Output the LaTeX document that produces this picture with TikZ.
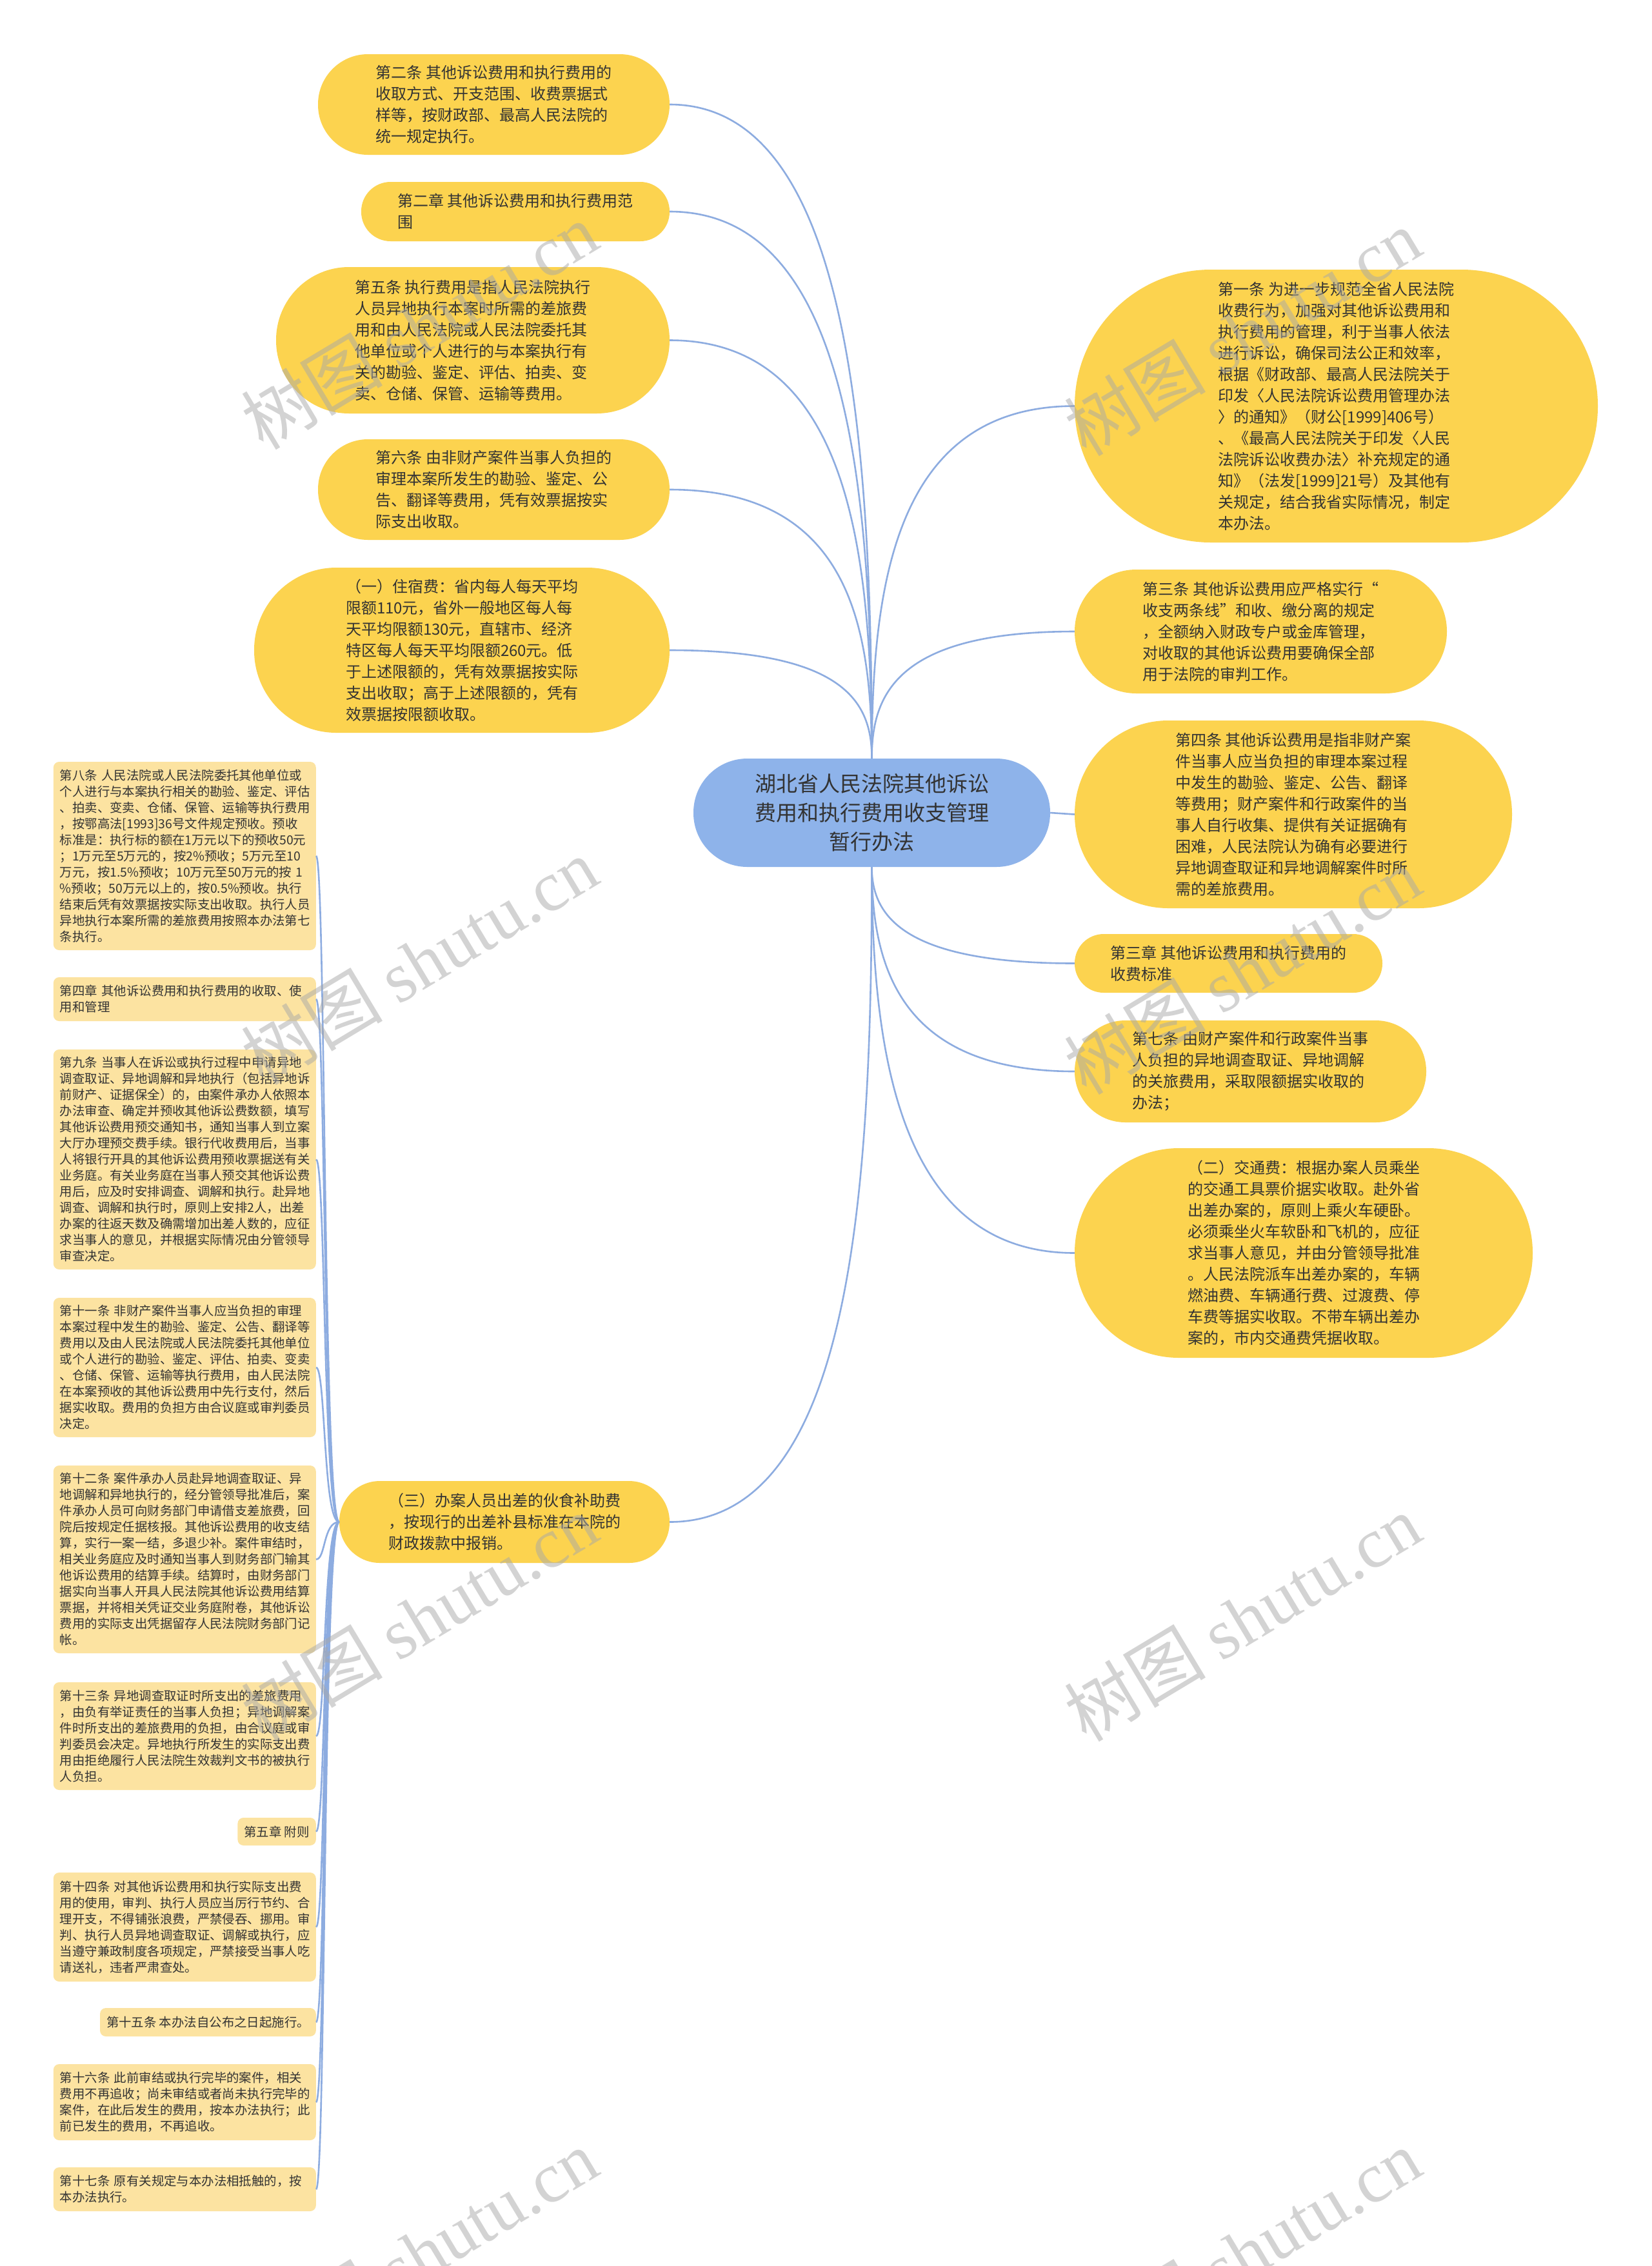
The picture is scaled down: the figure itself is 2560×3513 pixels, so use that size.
\documentclass[tikz,border=0pt]{standalone}
\usepackage{fontspec}
\setmainfont{Noto Sans CJK SC}
\newfontfamily\cjkfont{Noto Sans CJK SC}
\newfontfamily\wmserif{Liberation Serif}
\usetikzlibrary{calc}
\definecolor{bigyel}{HTML}{FCD34F}
\definecolor{smallyel}{HTML}{FCE3A1}
\definecolor{rootblue}{HTML}{8EB3EA}
\definecolor{linec}{HTML}{8DACE0}
\definecolor{txt}{HTML}{333333}
\definecolor{wm}{HTML}{A8A8A8}
\tikzset{
  bignode/.style={fill=bigyel, text=txt, align=left, inner sep=0pt, font=\fontsize{24}{33}\selectfont},
  smallnode/.style={fill=smallyel, text=txt, align=left, inner xsep=10pt, inner ysep=4pt, rounded corners=9pt, font=\fontsize{19.4}{25}\selectfont, anchor=east},
  widesmall/.style={smallnode, text width=387pt},
  rootnode/.style={fill=rootblue, text=txt, align=center, inner sep=0pt, font=\fontsize{33}{45}\selectfont},
  conn/.style={draw=linec, line width=2.6pt},
  wmark/.style={text=wm, opacity=0.5, rotate=31, inner sep=0pt, font=\fontsize{110}{110}\selectfont}
}
\begin{document}
\begin{tikzpicture}[x=1pt,y=-1pt]
\fill[white] (0,0) rectangle (2560,3513);
\useasboundingbox (0,0) rectangle (2560,3513);

% root
\node[rootnode, minimum width=553pt, minimum height=168pt, rounded corners=83.5pt] (root) at (1351.5,1260)
 {湖北省人民法院其他诉讼\\费用和执行费用收支管理\\暂行办法};

% left big nodes
\node[bignode, minimum width=545pt, minimum height=156pt, rounded corners=77.5pt] (l1) at (765.5,162)
 {第二条 其他诉讼费用和执行费用的\\收取方式、开支范围、收费票据式\\样等，按财政部、最高人民法院的\\统一规定执行。};
\node[bignode, minimum width=478pt, minimum height=92pt, rounded corners=45.5pt] (l2) at (799,328)
 {第二章 其他诉讼费用和执行费用范\\围};
\node[bignode, minimum width=610pt, minimum height=227pt, rounded corners=113pt] (l3) at (733,527.5)
 {第五条 执行费用是指人民法院执行\\人员异地执行本案时所需的差旅费\\用和由人民法院或人民法院委托其\\他单位或个人进行的与本案执行有\\关的勘验、鉴定、评估、拍卖、变\\卖、仓储、保管、运输等费用。};
\node[bignode, minimum width=545pt, minimum height=156pt, rounded corners=77.5pt] (l4) at (765.5,759)
 {第六条 由非财产案件当事人负担的\\审理本案所发生的勘验、鉴定、公\\告、翻译等费用，凭有效票据按实\\际支出收取。};
\node[bignode, minimum width=644pt, minimum height=256pt, rounded corners=127.5pt] (l5) at (716,1008)
 {（一）住宿费：省内每人每天平均\\限额110元，省外一般地区每人每\\天平均限额130元，直辖市、经济\\特区每人每天平均限额260元。低\\于上述限额的，凭有效票据按实际\\支出收取；高于上述限额的，凭有\\效票据按限额收取。};
\node[bignode, minimum width=512pt, minimum height=127pt, rounded corners=63pt] (l6) at (782,2359.5)
 {（三）办案人员出差的伙食补助费\\，按现行的出差补县标准在本院的\\财政拨款中报销。};

% right big nodes
\node[bignode, minimum width=811pt, minimum height=423pt, rounded corners=211pt] (r1) at (2071.5,629.5)
 {第一条 为进一步规范全省人民法院\\收费行为，加强对其他诉讼费用和\\执行费用的管理，利于当事人依法\\进行诉讼，确保司法公正和效率，\\根据《财政部、最高人民法院关于\\印发〈人民法院诉讼费用管理办法\\〉的通知》（财公[1999]406号）\\、《最高人民法院关于印发〈人民\\法院诉讼收费办法〉补充规定的通\\知》（法发[1999]21号）及其他有\\关规定，结合我省实际情况，制定\\本办法。};
\node[bignode, minimum width=577pt, minimum height=192pt, rounded corners=95.5pt] (r2) at (1954.5,979)
 {第三条 其他诉讼费用应严格实行“\\收支两条线”和收、缴分离的规定\\，全额纳入财政专户或金库管理，\\对收取的其他诉讼费用要确保全部\\用于法院的审判工作。};
\node[bignode, minimum width=678pt, minimum height=291pt, rounded corners=145pt] (r3) at (2005,1262.5)
 {第四条 其他诉讼费用是指非财产案\\件当事人应当负担的审理本案过程\\中发生的勘验、鉴定、公告、翻译\\等费用；财产案件和行政案件的当\\事人自行收集、提供有关证据确有\\困难，人民法院认为确有必要进行\\异地调查取证和异地调解案件时所\\需的差旅费用。};
\node[bignode, minimum width=477pt, minimum height=91pt, rounded corners=45pt] (r4) at (1904.5,1493.5)
 {第三章 其他诉讼费用和执行费用的\\收费标准};
\node[bignode, minimum width=545pt, minimum height=158pt, rounded corners=78.5pt] (r5) at (1938.5,1661)
 {第七条 由财产案件和行政案件当事\\人负担的异地调查取证、异地调解\\的关旅费用，采取限额据实收取的\\办法；};
\node[bignode, minimum width=710pt, minimum height=325pt, rounded corners=162pt] (r6) at (2021,1942.5)
 {（二）交通费：根据办案人员乘坐\\的交通工具票价据实收取。赴外省\\出差办案的，原则上乘火车硬卧。\\必须乘坐火车软卧和飞机的，应征\\求当事人意见，并由分管领导批准\\。人民法院派车出差办案的，车辆\\燃油费、车辆通行费、过渡费、停\\车费等据实收取。不带车辆出差办\\案的，市内交通费凭据收取。};

% left column small nodes
\node[widesmall, minimum height=292pt] (sa) at (490,1327)
 {第八条 人民法院或人民法院委托其他单位或\\个人进行与本案执行相关的勘验、鉴定、评估\\、拍卖、变卖、仓储、保管、运输等执行费用\\，按鄂高法[1993]36号文件规定预收。预收\\标准是：执行标的额在1万元以下的预收50元\\；1万元至5万元的，按2\%预收；5万元至10\\万元，按1.5\%预收；10万元至50万元的按 1\\\%预收；50万元以上的，按0.5\%预收。执行\\结束后凭有效票据按实际支出收取。执行人员\\异地执行本案所需的差旅费用按照本办法第七\\条执行。};
\node[widesmall, minimum height=68pt] (sb) at (490,1549)
 {第四章 其他诉讼费用和执行费用的收取、使\\用和管理};
\node[widesmall, minimum height=341pt] (sc) at (490,1797.5)
 {第九条 当事人在诉讼或执行过程中申请异地\\调查取证、异地调解和异地执行（包括异地诉\\前财产、证据保全）的，由案件承办人依照本\\办法审查、确定并预收其他诉讼费数额，填写\\其他诉讼费用预交通知书，通知当事人到立案\\大厅办理预交费手续。银行代收费用后，当事\\人将银行开具的其他诉讼费用预收票据送有关\\业务庭。有关业务庭在当事人预交其他诉讼费\\用后，应及时安排调查、调解和执行。赴异地\\调查、调解和执行时，原则上安排2人，出差\\办案的往返天数及确需增加出差人数的，应征\\求当事人的意见，并根据实际情况由分管领导\\审查决定。};
\node[widesmall, minimum height=216pt] (sd) at (490,2120)
 {第十一条 非财产案件当事人应当负担的审理\\本案过程中发生的勘验、鉴定、公告、翻译等\\费用以及由人民法院或人民法院委托其他单位\\或个人进行的勘验、鉴定、评估、拍卖、变卖\\、仓储、保管、运输等执行费用，由人民法院\\在本案预收的其他诉讼费用中先行支付，然后\\据实收取。费用的负担方由合议庭或审判委员\\决定。};
\node[widesmall, minimum height=291pt] (se) at (490,2417.5)
 {第十二条 案件承办人员赴异地调查取证、异\\地调解和异地执行的，经分管领导批准后，案\\件承办人员可向财务部门申请借支差旅费，回\\院后按规定任据核报。其他诉讼费用的收支结\\算，实行一案一结，多退少补。案件审结时，\\相关业务庭应及时通知当事人到财务部门输其\\他诉讼费用的结算手续。结算时，由财务部门\\据实向当事人开具人民法院其他诉讼费用结算\\票据，并将相关凭证交业务庭附卷，其他诉讼\\费用的实际支出凭据留存人民法院财务部门记\\帐。};
\node[widesmall, minimum height=167pt] (sf) at (490,2691.5)
 {第十三条 异地调查取证时所支出的差旅费用\\，由负有举证责任的当事人负担；异地调解案\\件时所支出的差旅费用的负担，由合议庭或审\\判委员会决定。异地执行所发生的实际支出费\\用由拒绝履行人民法院生效裁判文书的被执行\\人负担。};
\node[smallnode, minimum height=43pt] (sg) at (490,2839.5)
 {第五章 附则};
\node[widesmall, minimum height=169pt] (sh) at (490,2987.5)
 {第十四条 对其他诉讼费用和执行实际支出费\\用的使用，审判、执行人员应当厉行节约、合\\理开支，不得铺张浪费，严禁侵吞、挪用。审\\判、执行人员异地调查取证、调解或执行，应\\当遵守兼政制度各项规定，严禁接受当事人吃\\请送礼，违者严肃查处。};
\node[smallnode, minimum height=44pt] (si) at (490,3135)
 {第十五条 本办法自公布之日起施行。};
\node[widesmall, minimum height=118pt] (sj) at (490,3259)
 {第十六条 此前审结或执行完毕的案件，相关\\费用不再追收；尚未审结或者尚未执行完毕的\\案件，在此后发生的费用，按本办法执行；此\\前已发生的费用，不再追收。};
\node[widesmall, minimum height=68pt] (sk) at (490,3394)
 {第十七条 原有关规定与本办法相抵触的，按\\本办法执行。};

% connectors from root
\foreach \n in {l1,l2,l3,l4,l5}
  \draw[conn] (root.north) .. controls ($(root.north)!0.5!(root.north |- \n.east)$) and ($(root.north |- \n.east)!0.12!(\n.east)$) .. (\n.east);
\foreach \n in {r1,r2}
  \draw[conn] (root.north) .. controls ($(root.north)!0.5!(root.north |- \n.west)$) and ($(root.north |- \n.west)!0.12!(\n.west)$) .. (\n.west);
\foreach \n in {r4,r5,r6}
  \draw[conn] (root.south) .. controls ($(root.south)!0.5!(root.south |- \n.west)$) and ($(root.south |- \n.west)!0.15!(\n.west)$) .. (\n.west);
\draw[conn] (root.south) .. controls ($(root.south)!0.5!(root.south |- l6.east)$) and ($(root.south |- l6.east)!0.1!(l6.east)$) .. (l6.east);
\draw[conn] (root.east) -- (r3.west);

% left column connectors
\foreach \n in {sa,sb,sc,sd,se,sf,sg,sh,si,sj,sk}
  \draw[conn] (l6.west) .. controls +(-25,0) and +(15,0) .. (\n.east);

% watermarks
\foreach \p/\q in {650/505, 1926/515, 650/1490, 1926/1505, 650/2508, 1926/2508, 650/3492, 1926/3492}
  \node[wmark] (wm-\p-\q) at (\p,\q) {{\cjkfont 树图} {\wmserif shutu.cn}};
\end{tikzpicture}
\end{document}
